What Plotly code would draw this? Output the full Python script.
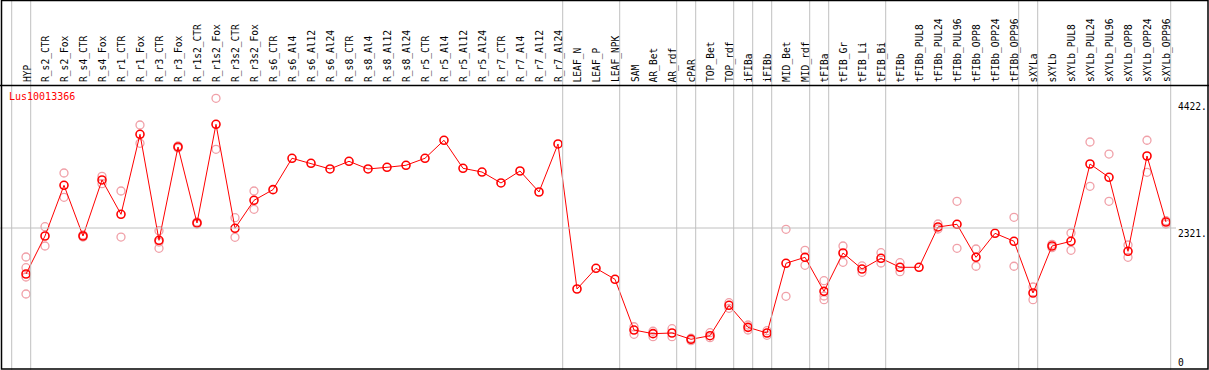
import plotly.graph_objects as go

gene_id = "Lus10013366"

categories = [
    "HYP", "R_s2_CTR", "R_s2_Fox", "R_s4_CTR", "R_s4_Fox", "R_r1_CTR", "R_r1_Fox",
    "R_r3_CTR", "R_r3_Fox", "R_r1s2_CTR", "R_r1s2_Fox", "R_r3s2_CTR", "R_r3s2_Fox",
    "R_s6_CTR", "R_s6_Al4", "R_s6_Al12", "R_s6_Al24", "R_s8_CTR", "R_s8_Al4",
    "R_s8_Al12", "R_s8_Al24", "R_r5_CTR", "R_r5_Al4", "R_r5_Al12", "R_r5_Al24",
    "R_r7_CTR", "R_r7_Al4", "R_r7_Al12", "R_r7_Al24", "LEAF_N", "LEAF_P", "LEAF_NPK",
    "SAM", "AR_Bet", "AR_rdf", "cPAR", "TOP_Bet", "TOP_rdf", "iFIBa", "iFIBb",
    "MID_Bet", "MID_rdf", "tFIBa", "tFIB_Gr", "tFIB_Li", "tFIB_Bi", "tFIBb",
    "tFIBb_PUL8", "tFIBb_PUL24", "tFIBb_PUL96", "tFIBb_OPP8", "tFIBb_OPP24",
    "tFIBb_OPP96", "sXYLa", "sXYLb", "sXYLb_PUL8", "sXYLb_PUL24", "sXYLb_PUL96",
    "sXYLb_OPP8", "sXYLb_OPP24", "sXYLb_OPP96",
]

mean_values = [
    1552, 2187, 3035, 2187, 3124, 2550, 3888, 2115, 3676, 2405, 4055, 2316, 2784,
    2962, 3487, 3403, 3308, 3436, 3308, 3336, 3370, 3487, 3788, 3319, 3257,
    3074, 3274, 2923, 3726, 1301, 1647, 1463,
    615, 554, 565, 460, 520, 1028, 660, 565,
    1731, 1831, 1262, 1903, 1635, 1814, 1664,
    1664, 2338, 2383, 1831, 2232, 2099, 1234, 2020, 2099, 3391, 3169, 1931, 3525, 2421,
]

replicate_values = [
    [1836, 1657, 1502, 1217], [2343, 2020], [3241, 2834], [2204, 2170], [3185, 3062],
    [2940, 2170], [4043, 3737], [2276, 1981, 2087], [3692, 3659], [2421, 2388],
    [4490, 3637], [2493, 2165], [2940, 2634],
    [], [], [], [], [], [], [], [], [], [], [], [], [], [], [], [], [], [], [],
    [670, 543], [594, 503], [637, 503], [477, 436], [570, 487], [1072, 978],
    [699, 615], [604, 527], [2299, 1179], [1948, 1697], [1440, 1184, 1122],
    [2020, 1747], [1686, 1580], [1908, 1736], [1741, 1590],
    [], [2388, 2304], [2767, 1981], [1970, 1681], [], [2500, 1681],
    [1334, 1122], [2048, 1992], [2237, 1948], [3759, 3018], [3558, 2767],
    [2037, 1831], [3788, 3252], [2443, 2388],
]

# a divider is drawn after each of these categories (None = before the first)
group_ends = [None, "HYP", "R_r7_Al24", "LEAF_NPK", "AR_rdf", "cPAR", "TOP_rdf",
              "iFIBa", "iFIBb", "MID_rdf", "tFIBa", "tFIB_Bi", "tFIBb_OPP96",
              "sXYLa", "sXYLb_OPP96"]

y_ticks = [0, 2321, 4422]
y_tick_text = ["0", "2321.", "4422."]

W, H = 1209, 370
idx = list(range(len(categories)))

rep_x, rep_y = [], []
for i, reps in enumerate(replicate_values):
    for r in reps:
        rep_x.append(i)
        rep_y.append(r)

fig = go.Figure()
fig.add_trace(go.Scatter(
    x=rep_x, y=rep_y, mode="markers", hoverinfo="skip",
    marker=dict(symbol="circle-open", size=8, color="#f0a0a8",
                line=dict(width=1.3, color="#f0a0a8")),
))
fig.add_trace(go.Scatter(
    x=idx, y=mean_values, mode="lines+markers",
    line=dict(color="#ff0000", width=1),
    marker=dict(symbol="circle-open", size=8, color="#ff0000",
                line=dict(width=1.6, color="#ff0000")),
))

x0 = -26 / 19
x1 = (W - 26) / 19
ypx_per_unit = 0.0598
y_top = 2321 + 228 / ypx_per_unit
y_bot = 2321 - (H - 228) / ypx_per_unit

shapes = []
shapes.append(dict(type="line", xref="paper", yref="y", x0=0, x1=1176 / W,
                   y0=2321, y1=2321, line=dict(color="#c0c0c0", width=1)))
for g in group_ends:
    pos = -1 if g is None else categories.index(g)
    xv = pos + 0.247
    shapes.append(dict(type="line", xref="x", yref="paper", x0=xv, x1=xv,
                       y0=0, y1=1, line=dict(color="#c0c0c0", width=1)))
shapes.append(dict(type="line", xref="paper", yref="paper", x0=0, x1=1,
                   y0=1 - 85.5 / H, y1=1 - 85.5 / H, line=dict(color="black", width=1.5)))
shapes.append(dict(type="rect", xref="paper", yref="paper",
                   x0=1.5 / W, x1=1208 / W, y0=1 - 369 / H, y1=1 - 0.5 / H,
                   line=dict(color="black", width=1.5), fillcolor="rgba(0,0,0,0)"))

font = dict(family="DejaVu Sans Mono", size=9.6, color="black")
annotations = []
for i, c in enumerate(categories):
    annotations.append(dict(x=i + 0.05, y=1 - 83 / H, xref="x", yref="paper", text=c,
                            showarrow=False, textangle=-90, xanchor="center",
                            yanchor="bottom", font=font, borderpad=0))
annotations.append(dict(x=8 / W, y=1 - 96.5 / H, xref="paper", yref="paper",
                        text=gene_id, showarrow=False, xanchor="left", yanchor="middle",
                        font=dict(family="DejaVu Sans Mono", size=10, color="#ff0000"),
                        borderpad=0))
tick_px = {0: 362, 2321: 233, 4422: 107}
for v, t in zip(y_ticks, y_tick_text):
    annotations.append(dict(x=1177 / W, y=1 - tick_px[v] / H, xref="paper", yref="paper",
                            text=t, showarrow=False, xanchor="left", yanchor="middle",
                            font=font, borderpad=0))

fig.update_layout(
    width=W, height=H, margin=dict(l=0, r=0, t=0, b=0, pad=0),
    paper_bgcolor="white", plot_bgcolor="white", showlegend=False,
    xaxis=dict(range=[x0, x1], visible=False, fixedrange=True),
    yaxis=dict(range=[y_bot, y_top], visible=False, fixedrange=True),
    shapes=shapes, annotations=annotations,
)

fig.write_html(
    "out.html",
    config={"displayModeBar": False},
    post_script="document.body.style.margin='0';document.body.style.overflow='hidden';",
)
